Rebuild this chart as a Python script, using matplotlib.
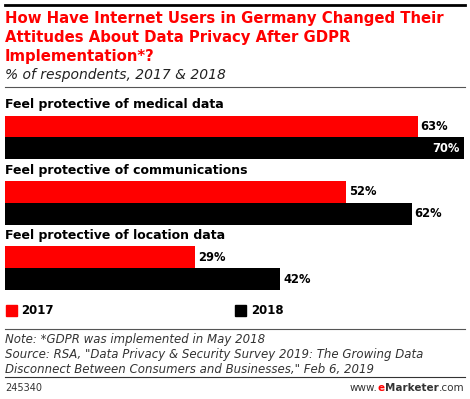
import numpy as np
import matplotlib
matplotlib.use("Agg")
import matplotlib.pyplot as plt
from matplotlib.lines import Line2D

# data
categories = ["Feel protective of medical data",
              "Feel protective of communications",
              "Feel protective of location data"]
years = ["2017", "2018"]
vals_2017 = [63, 52, 29]
vals_2018 = [70, 62, 42]

W, H = 470, 399
fig = plt.figure(figsize=(W / 100, H / 100), dpi=100)
plt.rcParams['font.family'] = ['DejaVu Sans']

def fx(px):
    return px / W

def fy(py):
    return 1 - py / H

red = "#ff0000"
blk = "#000000"

# lines
fig.add_artist(Line2D([fx(5), fx(465)], [fy(5), fy(5)], color="black", lw=2))
fig.add_artist(Line2D([fx(5), fx(465)], [fy(87), fy(87)], color="#555555", lw=0.8))
fig.add_artist(Line2D([fx(5), fx(465)], [fy(329), fy(329)], color="#555555", lw=0.8))
fig.add_artist(Line2D([fx(5), fx(465)], [fy(377), fy(377)], color="#333333", lw=0.8))

# title
title = ("How Have Internet Users in Germany Changed Their\n"
         "Attitudes About Data Privacy After GDPR\n"
         "Implementation*?")
fig.text(fx(5), fy(10.5), title, color=red, fontsize=10.7, fontweight="bold",
         va="top", ha="left", linespacing=1.36)
fig.text(fx(5), fy(75), "% of respondents, 2017 & 2018", fontsize=10,
         style="italic", va="center", ha="left", color="#222222")

# bars
ax = fig.add_axes([fx(5), fy(290), fx(464) - fx(5), fy(93.7) - fy(290)])
ax.set_xlim(0, 70)
ax.set_ylim(8.5, -0.5)
ax.axis("off")
idx = np.arange(len(categories)) * 3
ax.barh(idx + 1, vals_2017, height=1.0, color=red, edgecolor="none")
ax.barh(idx + 2, vals_2018, height=1.0, color=blk, edgecolor="none")

for i, cat in enumerate(categories):
    ax.text(0, idx[i], cat, fontsize=9, fontweight="bold", va="center", ha="left")
    ax.text(vals_2017[i] + 0.4, idx[i] + 1, f"{vals_2017[i]}%", fontsize=8.3,
            fontweight="bold", va="center", ha="left")
    v = vals_2018[i]
    if v >= 68:
        ax.text(v - 0.6, idx[i] + 2, f"{v}%", fontsize=8.3, fontweight="bold",
                va="center", ha="right", color="white")
    else:
        ax.text(v + 0.4, idx[i] + 2, f"{v}%", fontsize=8.3, fontweight="bold",
                va="center", ha="left")

# legend
for x0, col, lab in [(5.5, red, years[0]), (235, blk, years[1])]:
    fig.patches.append(plt.Rectangle((fx(x0), fy(316)), fx(11), 11 / H,
                                     color=col, transform=fig.transFigure))
    fig.text(fx(x0 + 16), fy(310.5), lab, fontsize=8.5, fontweight="bold",
             va="center", ha="left")

# notes
notes = ("Note: *GDPR was implemented in May 2018\n"
         "Source: RSA, \"Data Privacy & Security Survey 2019: The Growing Data\n"
         "Disconnect Between Consumers and Businesses,\" Feb 6, 2019")
fig.text(fx(5), fy(333), notes, fontsize=8.5, style="italic", va="top",
         ha="left", color="#333333", linespacing=1.2)

fig.text(fx(5), fy(388), "245340", fontsize=7, va="center", ha="left",
         color="#333333")

# www.eMarketer.com
fig.canvas.draw()
r = fig.canvas.get_renderer()
x = fx(464)
for txt, kw in [(".com", dict(color="#333333")),
                ("Marketer", dict(color="#333333", fontweight="bold")),
                ("e", dict(color=red, fontweight="bold")),
                ("www.", dict(color="#333333"))]:
    t = fig.text(x, fy(388), txt, fontsize=7.5, va="center", ha="right", **kw)
    bb = t.get_window_extent(renderer=r)
    x -= bb.width / W

fig.savefig("out.png", dpi=100)
